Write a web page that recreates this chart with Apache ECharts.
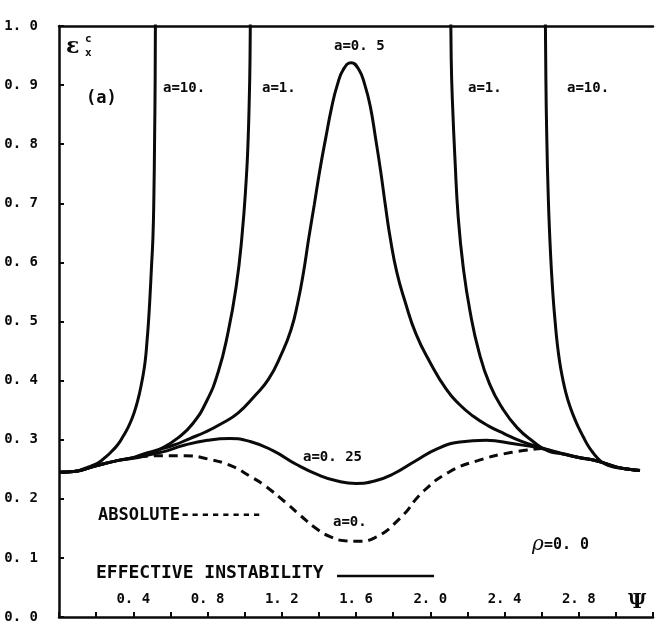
<!DOCTYPE html>
<html>
<head>
    <meta charset="utf-8">
    <title>Effective instability</title>
    <script src="https://cdn.jsdelivr.net/npm/echarts@6/dist/echarts.min.js"></script>
</head>
<body style="margin:0;background:#fff">
<div id="main" style="width:656px;height:624px"></div>
<script type="text/javascript">
    // curves, [psi, eps]; '-' breaks a curve where it runs off the top
    var curveA10 = [[0, 0.245], [0.08, 0.246], [0.127, 0.25], [0.17, 0.255], [0.212, 0.261], [0.249, 0.27],
        [0.283, 0.28], [0.315, 0.291], [0.344, 0.305], [0.371, 0.32], [0.395, 0.337], [0.416, 0.357],
        [0.434, 0.379], [0.45, 0.404], [0.464, 0.432], [0.474, 0.466], [0.482, 0.499], [0.49, 0.541],
        [0.498, 0.591], [0.506, 0.642], [0.511, 0.709], [0.515, 0.809], [0.518, 0.91], [0.52, 1.05],
        [1.57, '-'],
        [2.619, 1.05], [2.623, 0.91], [2.628, 0.809], [2.636, 0.709], [2.644, 0.642], [2.652, 0.591],
        [2.662, 0.541], [2.673, 0.499], [2.683, 0.466], [2.697, 0.432], [2.713, 0.404], [2.731, 0.379],
        [2.752, 0.357], [2.776, 0.337], [2.8, 0.32], [2.824, 0.305], [2.848, 0.291], [2.872, 0.28],
        [2.898, 0.27], [2.93, 0.261], [2.962, 0.256], [3.0, 0.253], [3.07, 0.25], [3.13, 0.248]];
    var curveA1 = [[0, 0.245], [0.08, 0.246], [0.2, 0.256], [0.32, 0.265], [0.456, 0.272], [0.551, 0.285],
        [0.641, 0.303], [0.72, 0.327], [0.795, 0.365], [0.858, 0.415], [0.911, 0.482], [0.954, 0.558],
        [0.985, 0.642], [1.009, 0.742], [1.019, 0.809], [1.025, 0.876], [1.029, 0.943], [1.032, 1.05],
        [1.57, '-'],
        [2.109, 1.05], [2.113, 0.943], [2.119, 0.876], [2.133, 0.776], [2.151, 0.675], [2.178, 0.591],
        [2.215, 0.516], [2.262, 0.449], [2.32, 0.394], [2.389, 0.353], [2.469, 0.32], [2.554, 0.297],
        [2.633, 0.281], [2.71, 0.276], [2.8, 0.27], [2.9, 0.264], [3.0, 0.254], [3.07, 0.25], [3.13, 0.248]];
    var curveA05 = [[0, 0.245], [0.08, 0.246], [0.2, 0.256], [0.32, 0.265], [0.39, 0.269], [0.456, 0.276],
        [0.535, 0.283], [0.62, 0.291], [0.705, 0.302], [0.789, 0.313], [0.874, 0.327], [0.964, 0.345],
        [1.054, 0.374], [1.128, 0.402], [1.197, 0.444], [1.25, 0.486], [1.287, 0.533], [1.317, 0.583],
        [1.346, 0.642], [1.375, 0.697], [1.404, 0.754], [1.436, 0.809], [1.47, 0.864], [1.499, 0.9],
        [1.531, 0.926], [1.574, 0.938], [1.616, 0.926], [1.648, 0.9], [1.677, 0.864], [1.706, 0.809],
        [1.733, 0.754], [1.758, 0.697], [1.784, 0.642], [1.82, 0.583], [1.865, 0.533], [1.923, 0.479],
        [1.997, 0.432], [2.087, 0.385], [2.156, 0.36], [2.23, 0.34], [2.315, 0.323], [2.4, 0.31],
        [2.485, 0.298], [2.58, 0.288], [2.686, 0.279], [2.8, 0.27], [2.9, 0.264], [3.0, 0.254],
        [3.07, 0.25], [3.13, 0.248]];
    var curveA025 = [[0, 0.245], [0.08, 0.246], [0.2, 0.256], [0.32, 0.265], [0.43, 0.271], [0.554, 0.279],
        [0.678, 0.291], [0.8, 0.299], [0.92, 0.302], [1.03, 0.297], [1.15, 0.282], [1.28, 0.258], [1.4, 0.24],
        [1.5, 0.23], [1.6, 0.226], [1.7, 0.23], [1.8, 0.242], [1.92, 0.264], [2.04, 0.285], [2.16, 0.296],
        [2.3, 0.299], [2.45, 0.293], [2.6, 0.285], [2.71, 0.276], [2.8, 0.27], [2.9, 0.264], [3.0, 0.254],
        [3.07, 0.25], [3.13, 0.248]];
    var curveA0 = [[0.43, 0.271], [0.554, 0.273], [0.678, 0.273], [0.8, 0.2675], [0.926, 0.256], [1.03, 0.238],
        [1.11, 0.222], [1.235, 0.19], [1.3, 0.172], [1.38, 0.151], [1.46, 0.136], [1.54, 0.129], [1.61, 0.128],
        [1.7, 0.134], [1.837, 0.167], [1.96, 0.2116], [2.1, 0.245], [2.26, 0.265], [2.44, 0.2786], [2.6, 0.285]];

    var xLabelValues = [0.4, 0.8, 1.2, 1.6, 2.0, 2.4, 2.8];

    var ink = '#0a0a0a';
    var mono = '"DejaVu Sans Mono", monospace';

    function fmt(v) {
        return v.toFixed(1).replace('.', '. ');
    }

    function curve(name, data, dashed) {
        return {
            name: name,
            type: 'line',
            data: data,
            showSymbol: false,
            smooth: 0.5,
            connectNulls: false,
            clip: true,
            lineStyle: {color: ink, width: 3, type: dashed ? [9, 6] : 'solid'}
        };
    }

    function label(text, x, y, size) {
        return {
            type: 'text', x: x, y: y,
            style: {text: text, font: 'bold ' + (size || 14) + 'px ' + mono, fill: ink, textVerticalAlign: 'middle'}
        };
    }

    var myChart = echarts.init(document.getElementById('main'));
    var option = {
        animation: false,
        backgroundColor: '#fff',
        grid: {left: 59, right: -7, top: 26, bottom: 1},
        xAxis: [{
            type: 'value', min: 0, max: 3.2, interval: 0.2,
            splitLine: {show: false},
            axisLine: {lineStyle: {color: ink, width: 2.5}},
            axisTick: {inside: true, length: 5, lineStyle: {color: ink, width: 2}},
            axisLabel: {
                inside: true, margin: 11, color: ink,
                fontFamily: mono, fontWeight: 'bold', fontSize: 14,
                formatter: function (v) {
                    for (var i = 0; i < xLabelValues.length; i++) {
                        if (Math.abs(v - xLabelValues[i]) < 1e-6) return fmt(v);
                    }
                    return '';
                }
            }
        }, {
            type: 'value', position: 'top', min: 0, max: 3.2,
            splitLine: {show: false},
            axisLine: {show: true, lineStyle: {color: ink, width: 2.5}},
            axisTick: {show: false},
            axisLabel: {show: false}
        }],
        yAxis: {
            type: 'value', min: 0, max: 1, interval: 0.1,
            splitLine: {show: false},
            axisLine: {show: true, lineStyle: {color: ink, width: 2.5}},
            axisTick: {inside: true, length: 5, lineStyle: {color: ink, width: 2}},
            axisLabel: {
                margin: 21, color: ink, fontFamily: mono, fontWeight: 'bold', fontSize: 14,
                formatter: fmt
            }
        },
        series: [
            curve('a=10.', curveA10),
            curve('a=1.', curveA1),
            curve('a=0.5', curveA05),
            curve('a=0.25', curveA025),
            curve('a=0.', curveA0, true)
        ],
        graphic: [
            {type: 'text', x: 66, y: 47, style: {text: 'ε', font: 'bold 22px "DejaVu Serif", serif', fill: ink, textVerticalAlign: 'middle'}},
            {type: 'text', x: 85, y: 39, style: {text: 'c', font: 'bold 11px ' + mono, fill: ink, textVerticalAlign: 'middle'}},
            {type: 'text', x: 85, y: 53, style: {text: 'x', font: 'bold 11px ' + mono, fill: ink, textVerticalAlign: 'middle'}},
            label('(a)', 86, 99, 17),
            label('a=10.', 163, 88),
            label('a=1.', 262, 88),
            label('a=0. 5', 334, 46),
            label('a=1.', 468, 88),
            label('a=10.', 567, 88),
            label('a=0. 25', 303, 457),
            label('a=0.', 333, 522),
            label('ABSOLUTE--------', 98, 516, 17),
            label('EFFECTIVE INSTABILITY', 96, 573, 18),
            {type: 'line', shape: {x1: 337, y1: 576, x2: 434, y2: 576}, style: {stroke: ink, lineWidth: 2.5}},
            {type: 'text', x: 532, y: 545, style: {text: 'ρ', font: 'italic 20px "DejaVu Serif", serif', fill: ink, textVerticalAlign: 'middle'}},
            label('=0. 0', 544, 545, 15),
            {type: 'text', x: 628, y: 603, style: {text: 'Ψ', font: 'bold 20px "DejaVu Serif", serif', fill: ink, textVerticalAlign: 'middle'}}
        ]
    };
    myChart.setOption(option);
</script>
</body>
</html>
